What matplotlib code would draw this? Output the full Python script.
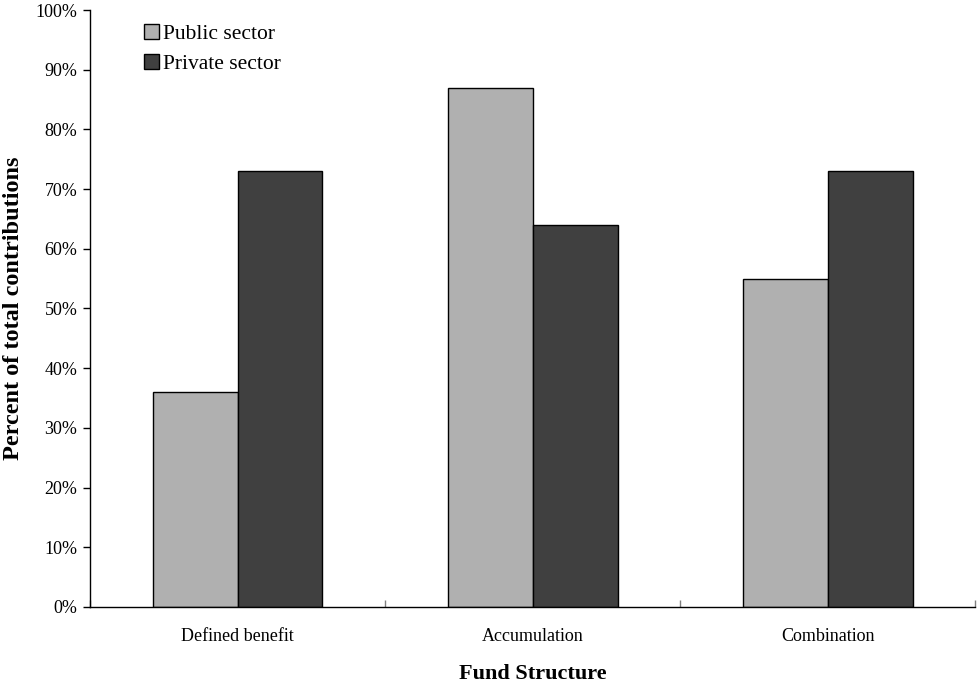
import matplotlib
matplotlib.use("Agg")
import matplotlib.pyplot as plt
import numpy as np
from matplotlib.ticker import FixedLocator, NullFormatter

plt.rcParams['font.family'] = ['Liberation Serif', 'DejaVu Serif']

# Share of total contributions by fund structure
categories = ['Defined benefit', 'Accumulation', 'Combination']
public = [36, 87, 55]
private = [73, 64, 73]
series_names = ['Public sector', 'Private sector']
colors = ['#b0b0b0', '#404040']

fig = plt.figure(figsize=(9.77, 6.86), dpi=100)
ax = fig.add_axes([0.0921, 0.1152, 0.906, 0.8702])

x = np.arange(len(categories))
w = 0.288
ax.bar(x - w / 2, public, w, color=colors[0], edgecolor='black', linewidth=1.0,
       label=series_names[0])
ax.bar(x + w / 2, private, w, color=colors[1], edgecolor='black', linewidth=1.0,
       label=series_names[1])

ax.set_xlim(-0.5, len(categories) - 0.5)
ax.set_ylim(0, 100)

# y axis: percent ticks every 10
ax.set_yticks(np.arange(0, 101, 10))
ax.set_yticklabels([f'{v}%' for v in range(0, 101, 10)], fontsize=13)
ax.tick_params(axis='y', direction='out', length=5, width=1, pad=4)

# x axis: category labels centred, ticks at group boundaries pointing inward
ax.set_xticks(x)
ax.set_xticklabels(categories, fontsize=13)
ax.tick_params(axis='x', which='major', length=0, pad=15)
ax.xaxis.set_minor_locator(FixedLocator(np.arange(-0.5, len(categories), 1.0)))
ax.xaxis.set_minor_formatter(NullFormatter())
ax.tick_params(axis='x', which='minor', direction='in', length=5, width=1,
               color='#808080')

for s in ['top', 'right']:
    ax.spines[s].set_visible(False)
for s in ['left', 'bottom']:
    ax.spines[s].set_linewidth(1.0)

ax.set_ylabel('Percent of total contributions', fontsize=17.5, fontweight='bold',
              labelpad=8)
ax.set_xlabel('Fund Structure', fontsize=16, fontweight='bold', labelpad=14)

ax.legend(loc='upper left', bbox_to_anchor=(0.046, 0.998), frameon=False,
          fontsize=15.5, handlelength=0.7, handleheight=0.7, handletextpad=0.2,
          labelspacing=0.45, borderaxespad=0.2)

fig.savefig('out.png', dpi=100)
